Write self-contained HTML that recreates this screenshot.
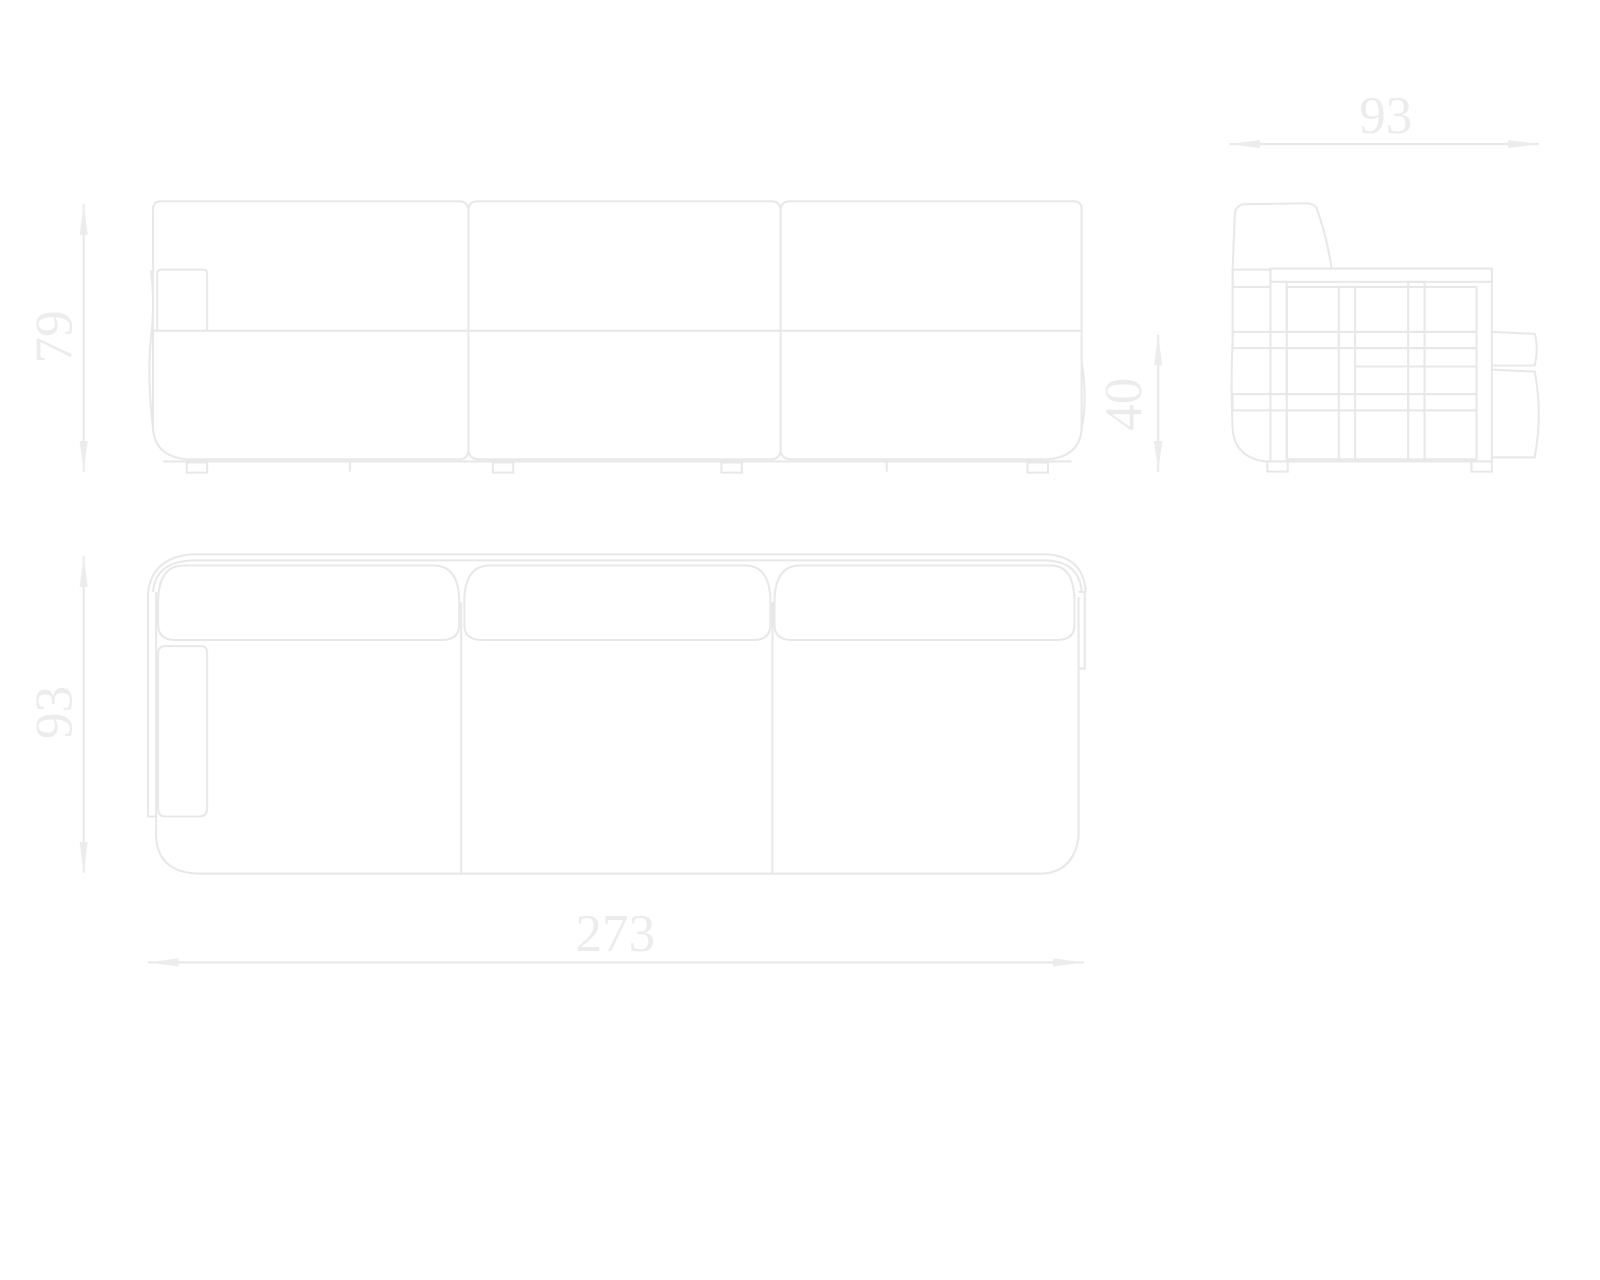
<!DOCTYPE html>
<html><head><style>html,body{margin:0;padding:0;background:#fff;}svg{display:block}</style></head>
<body>
<svg width="1600" height="1280" viewBox="0 0 1568 1254" xmlns="http://www.w3.org/2000/svg">
<defs>
<marker id="a" viewBox="0 0 30 10" refX="30" refY="5" markerWidth="30" markerHeight="10" markerUnits="userSpaceOnUse" orient="auto-start-reverse"><path d="M30,5 L0,1 L0,9 Z" fill="#ececec"/></marker>
</defs>
<g fill="none" stroke="#e8e8e8" stroke-width="2">
<line x1="82" y1="200" x2="82" y2="462" marker-start="url(#a)" marker-end="url(#a)"/>
<line x1="1135" y1="328" x2="1135" y2="462" marker-start="url(#a)" marker-end="url(#a)"/>
<line x1="1205" y1="141" x2="1508" y2="141" marker-start="url(#a)" marker-end="url(#a)"/>
<line x1="82" y1="545" x2="82" y2="855" marker-start="url(#a)" marker-end="url(#a)"/>
<line x1="145" y1="943" x2="1062" y2="943" marker-start="url(#a)" marker-end="url(#a)"/>

<path d="M150,325 L150,205 Q150,197 158,197 L450,197 Q458,197 459,205 Q460,197 468,197 L756,197 Q764,197 765,205 Q766,197 774,197 L1052,197 Q1060,197 1060,205 L1060,325"/>
<line x1="459" y1="205" x2="459" y2="325"/>
<line x1="765" y1="205" x2="765" y2="325"/>
<line x1="150" y1="324" x2="1060" y2="324"/>
<path d="M154,324 L154,268 Q154,264 158,264 L199,264 Q203,264 203,268 L203,324"/>
<path d="M150,324 L150,420 Q152,448 185,450 L450,450 Q459,450 459,440 L459,324"/>
<path d="M459,440 Q459,450 470,450 L755,450 Q765,450 765,440 L765,324"/>
<path d="M765,440 Q765,450 776,450 L1025,450 Q1058,448 1060,420 L1060,324"/>
<line x1="160" y1="452" x2="1050" y2="452"/>
<path d="M148,265 Q152,300 148,330 Q144,370 150,420"/>
<path d="M1060,355 Q1066,390 1060,420"/>
<rect x="183" y="453" width="20" height="10"/>
<rect x="483" y="453" width="20" height="10"/>
<rect x="707" y="453" width="20" height="10"/>
<rect x="1007" y="453" width="20" height="10"/>
<line x1="343" y1="452" x2="343" y2="462"/>
<line x1="869" y1="452" x2="869" y2="462"/>

<path d="M1245,263 L1305,263 Q1300,230 1290,203 Q1286,199 1280,199 L1218,200 Q1210,202 1210,212 L1208,264"/>
<path d="M1208,264 L1208,330 Q1206,380 1208,420 Q1210,448 1240,452 L1462,452"/>
<rect x="1245" y="263" width="217" height="13"/>
<line x1="1462" y1="263" x2="1462" y2="452"/>
<rect x="1245" y="276" width="16" height="176"/>
<rect x="1312" y="281" width="16" height="171"/>
<rect x="1380" y="276" width="16" height="176"/>
<rect x="1208" y="264" width="37" height="17"/>
<rect x="1261" y="281" width="186" height="44"/>
<rect x="1208" y="325" width="104" height="16"/>
<rect x="1328" y="325" width="119" height="16"/>
<rect x="1261" y="341" width="186" height="45"/>
<rect x="1208" y="386" width="172" height="16"/>
<rect x="1396" y="386" width="51" height="16"/>
<rect x="1261" y="402" width="186" height="48"/>
<line x1="1328" y1="359" x2="1447" y2="359"/>
<path d="M1462,325 L1504,327 Q1508,340 1504,358 L1462,358"/>
<path d="M1462,362 L1504,364 Q1512,405 1504,448 L1462,448"/>
<rect x="1242" y="452" width="20" height="10"/>
<rect x="1442" y="452" width="20" height="10"/>

<path d="M145,580 Q150,545 190,543 L1025,543 Q1062,545 1064,580"/>
<path d="M150,580 Q152,550 190,549 L1025,549 Q1058,550 1060,580"/>
<path d="M153,800 L153,820 Q155,855 195,856 L1020,856 Q1052,855 1057,820 L1057,585"/>
<path d="M155,590 Q155,554 180,554 L425,554 Q450,554 450,590 L450,612 Q450,627 433,627 L172,627 Q155,627 155,612 Z"/>
<path d="M455,590 Q455,554 480,554 L730,554 Q755,554 755,590 L755,612 Q755,627 738,627 L472,627 Q455,627 455,612 Z"/>
<path d="M759,590 Q759,554 784,554 L1030,554 Q1053,554 1053,590 L1053,612 Q1053,627 1036,627 L776,627 Q759,627 759,612 Z"/>
<line x1="452" y1="590" x2="452" y2="856"/>
<line x1="757" y1="590" x2="757" y2="856"/>
<path d="M155,640 Q155,633 162,633 L197,633 Q203,633 203,640 L203,792 Q203,800 195,800 L162,800 Q155,800 155,792 Z"/>
<path d="M145,580 L145,800 L153,800 L153,580"/>
<path d="M1057,580 L1063,580 L1063,655 L1057,655"/>
</g>
<g fill="#ececec" font-family="'Liberation Serif', serif" font-size="52">
<text x="1358" y="130" text-anchor="middle">93</text>
<text x="603" y="932" text-anchor="middle">273</text>
<text transform="translate(70,330) rotate(-90)" text-anchor="middle">79</text>
<text transform="translate(70,698) rotate(-90)" text-anchor="middle">93</text>
<text transform="translate(1118,396) rotate(-90)" text-anchor="middle">40</text>
</g>
</svg>
</body></html>
